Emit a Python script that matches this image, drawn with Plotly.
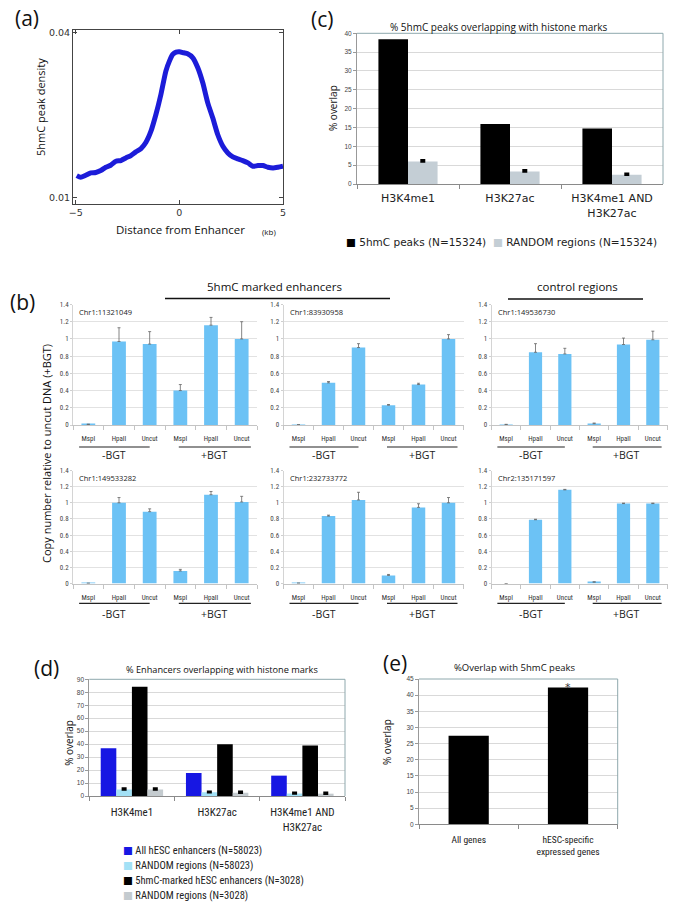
import plotly.graph_objects as go

W, H = 685, 906
def fx(p): return p / W
def fy(p): return 1 - p / H

OPEN = "Open Sans, Noto Sans, sans-serif"
DEJAVU = "DejaVu Sans, Verdana, sans-serif"
NARROW = "Liberation Sans Narrow, Arial Narrow, Roboto Condensed, Roboto, sans-serif"
HELV = "Liberation Sans, Arial, sans-serif"

# ---------------- data ----------------
# (a) 5hmC peak density around enhancers
dist_kb = [-4.95, -4.76, -4.52, -4.27, -4.03, -3.79, -3.55, -3.31, -3.06, -2.82,
           -2.58, -2.34, -2.10, -1.85, -1.61, -1.37, -1.13, -0.89, -0.65, -0.48,
           -0.32, -0.16, 0.0, 0.21, 0.40, 0.65, 0.89, 1.13, 1.37, 1.61,
           1.85, 2.10, 2.34, 2.58, 2.82, 3.06, 3.31, 3.55, 3.79, 4.03,
           4.27, 4.52, 4.76, 5.0]
peak_density = [0.01406, 0.01376, 0.01412, 0.01455, 0.01461, 0.01497, 0.01558, 0.01594, 0.01667, 0.01679,
                0.01727, 0.01770, 0.01836, 0.01897, 0.02012, 0.02212, 0.02515, 0.02879, 0.03303, 0.03485,
                0.03606, 0.03648, 0.03655, 0.03636, 0.03618, 0.03545, 0.03364, 0.03091, 0.02727, 0.02455,
                0.02152, 0.01939, 0.01818, 0.01745, 0.01709, 0.01679, 0.01636, 0.01576, 0.01588, 0.01588,
                0.01558, 0.01545, 0.01558, 0.01576]

# (b) copy number relative to uncut DNA (+BGT)
loci = ["Chr1:11321049", "Chr1:83930958", "Chr1:149536730",
        "Chr1:149533282", "Chr1:232733772", "Chr2:135171597"]
conditions = ["MspI -BGT", "HpaII -BGT", "Uncut -BGT", "MspI +BGT", "HpaII +BGT", "Uncut +BGT"]
enzymes = ["MspI", "HpaII", "Uncut", "MspI", "HpaII", "Uncut"]
treatments = ["-BGT", "+BGT"]
copy_number = [
    [0.006, 0.97, 0.94, 0.40, 1.16, 1.00],
    [0.003, 0.49, 0.90, 0.23, 0.47, 1.00],
    [0.005, 0.845, 0.826, 0.015, 0.935, 0.99],
    [0.003, 1.00, 0.89, 0.155, 1.10, 1.01],
    [0.004, 0.835, 1.035, 0.10, 0.943, 1.00],
    [0.0, 0.79, 1.16, 0.017, 0.99, 0.99],
]
copy_err = [
    [0.004, 0.16, 0.145, 0.07, 0.09, 0.20],
    [0.0, 0.015, 0.045, 0.008, 0.015, 0.05],
    [0.003, 0.10, 0.065, 0.008, 0.075, 0.10],
    [0.0, 0.065, 0.035, 0.02, 0.04, 0.07],
    [0.0, 0.012, 0.095, 0.012, 0.045, 0.065],
    [0.0, 0.006, 0.006, 0.004, 0.006, 0.006],
]

# (c) % 5hmC peaks overlapping with histone marks
marks = ["H3K4me1", "H3K27ac", "H3K4me1 AND<br>H3K27ac"]
peaks_5hmc = [38.4, 15.9, 14.7]
random_c = [6.0, 3.35, 2.45]
random_c_err = [0.3, 0.3, 0.3]
legend_c = ["5hmC peaks (N=15324)", "RANDOM regions (N=15324)"]

# (d) % enhancers overlapping with histone marks
all_enh = [36.8, 17.8, 15.7]
random_all = [5.1, 2.8, 1.9]
random_all_err = [0.6, 0.5, 0.6]
hmc_enh = [84.3, 39.9, 38.9]
random_hmc = [5.1, 2.6, 1.8]
random_hmc_err = [0.6, 0.6, 0.7]
legend_d = ["All hESC enhancers (N=58023)", "RANDOM regions (N=58023)",
            "5hmC-marked hESC enhancers (N=3028)", "RANDOM regions (N=3028)"]

# (e) % overlap with 5hmC peaks
gene_sets = ["All genes", "hESC-specific<br>expressed genes"]
overlap_e = [27.4, 42.4]

C_BLACK = "black"
C_GREY_C = "#c4ced5"
C_BLUE = "#1717e3"
C_CYAN = "#a3e1f6"
C_GREY_D = "#c4cbcf"

fig = go.Figure()

# (a)
fig.add_trace(go.Scatter(x=dist_kb, y=peak_density, mode="lines",
                         line=dict(color="#1c1cd9", width=5, shape="spline", smoothing=0.6),
                         xaxis="x", yaxis="y", showlegend=False))

# (c)
wc = 0.29
fig.add_trace(go.Bar(x=marks, y=peaks_5hmc, name=legend_c[0],
                     marker=dict(color=C_BLACK, line=dict(width=0)), width=wc, offset=-wc,
                     xaxis="x2", yaxis="y2", showlegend=False))
fig.add_trace(go.Bar(x=marks, y=random_c, name=legend_c[1],
                     marker=dict(color=C_GREY_C, line=dict(width=0)), width=wc, offset=0,
                     error_y=dict(type="data", array=random_c_err, arrayminus=[0] * 3, symmetric=False,
                                  color="black", thickness=2.5, width=2.5),
                     xaxis="x2", yaxis="y2", showlegend=False))

# (b)
b_cols = [(73, 257), (283.5, 463.5), (491.5, 667.5)]
b_rows = [(304.5, 425), (470.5, 583.5)]
pos = list(range(len(conditions)))
for i, locus in enumerate(loci):
    n = 3 + i
    fig.add_trace(go.Bar(x=pos, y=copy_number[i], name=locus, width=0.45,
                         marker=dict(color="#6cc2f5", line=dict(width=0)),
                         error_y=dict(type="data", array=copy_err[i], arrayminus=[0] * 6, symmetric=False,
                                      color="#666", thickness=0.8, width=1.5),
                         xaxis=f"x{n}", yaxis=f"y{n}", showlegend=False,
                         customdata=conditions))

# (d)
wd = 0.183
d_series = [
    (all_enh, None, legend_d[0], C_BLUE),
    (random_all, random_all_err, legend_d[1], C_CYAN),
    (hmc_enh, None, legend_d[2], C_BLACK),
    (random_hmc, random_hmc_err, legend_d[3], C_GREY_D),
]
for k, (vals, errs, nm, col) in enumerate(d_series):
    eb = None
    if errs is not None:
        eb = dict(type="data", array=errs, arrayminus=[0] * 3, symmetric=False,
                  color="black", thickness=2.5, width=2.5)
    fig.add_trace(go.Bar(x=marks, y=vals, name=nm, width=wd, offset=-2 * wd + k * wd,
                         marker=dict(color=col, line=dict(width=0)), error_y=eb,
                         xaxis="x9", yaxis="y9", showlegend=False))

# (e)
fig.add_trace(go.Bar(x=gene_sets, y=overlap_e, width=0.405, offset=-0.2025,
                     marker=dict(color="black", line=dict(width=0)),
                     xaxis="x10", yaxis="y10", showlegend=False))

layout = dict(
    width=W, height=H, margin=dict(l=0, r=0, t=0, b=0),
    paper_bgcolor="white", plot_bgcolor="white", template="none",
    barmode="overlay", font=dict(family=OPEN, color="#222"), showlegend=False,
)

layout["xaxis"] = dict(domain=[fx(73), fx(283)], anchor="y", range=[-5.13, 5.0],
                       tickmode="array", tickvals=[-5, 0, 5], ticks="inside", ticklen=4,
                       showline=True, mirror="ticks", linecolor="#444", linewidth=1, tickcolor="#444",
                       showgrid=False, zeroline=False, tickfont=dict(family=DEJAVU, size=9.5, color="#333"))
layout["yaxis"] = dict(domain=[fy(204), fy(30)], anchor="x", range=[0.0089, 0.0405],
                       tickmode="array", tickvals=[0.01, 0.04], ticktext=["0.01", "0.04"],
                       ticks="inside", ticklen=4, showline=True, mirror="ticks", linecolor="#444",
                       linewidth=1, tickcolor="#444", showgrid=False, zeroline=False,
                       tickfont=dict(family=DEJAVU, size=9.5, color="#333"))

def bar_x(domain, anchor, cats, fsize, family):
    return dict(domain=domain, anchor=anchor, type="category", categoryorder="array",
                categoryarray=cats, range=[-0.5, len(cats) - 0.5], tickson="boundaries",
                ticks="outside", ticklen=4, tickcolor="#8a8a8a", showline=True, linecolor="#8a8a8a",
                showgrid=False, zeroline=False, tickfont=dict(family=family, size=fsize, color="#222"))

def bar_y(domain, anchor, rng, dtick):
    return dict(domain=domain, anchor=anchor, range=rng, dtick=dtick, tick0=0,
                ticks="outside", ticklen=3, tickcolor="#999", showline=True, linecolor="#999",
                showgrid=True, gridcolor="#d9d9d9", gridwidth=1, zeroline=False,
                tickfont=dict(family=HELV, size=6.5, color="#444"))

layout["xaxis2"] = bar_x([fx(357), fx(663)], "y2", marks, 11, DEJAVU)
layout["xaxis2"]["ticklabelstandoff"] = 4
layout["yaxis2"] = bar_y([fy(184), fy(33.3)], "x2", [0, 40], 5)

layout["xaxis9"] = bar_x([fx(89.3), fx(345)], "y9", marks, 11, NARROW)
layout["xaxis9"]["ticklabelstandoff"] = 6
layout["yaxis9"] = bar_y([fy(796), fy(679.3)], "x9", [0, 90], 10)

layout["xaxis10"] = bar_x([fx(419), fx(617.7)], "y10", gene_sets, 9.5, NARROW)
layout["xaxis10"]["ticklabelstandoff"] = 6
layout["yaxis10"] = bar_y([fy(824.3), fy(679)], "x10", [0, 45], 5)

for i in range(6):
    n = 3 + i
    r, c = divmod(i, 3)
    top, bot = b_rows[r]
    left, right = b_cols[c]
    layout[f"xaxis{n}"] = dict(domain=[fx(left), fx(right)], anchor=f"y{n}", range=[-0.5, 5.5],
                               tickmode="array", tickvals=pos, ticktext=enzymes, ticks="",
                               showline=True, linecolor="#c4c4c4", showgrid=False, zeroline=False,
                               ticklabelstandoff=7,
                               tickfont=dict(family=NARROW, size=7, color="#333"),
                               minor=dict(tickmode="array", tickvals=[p - 0.5 for p in pos + [6]],
                                          ticks="outside", ticklen=4, tickcolor="#c4c4c4", showgrid=False))
    layout[f"yaxis{n}"] = dict(domain=[fy(bot), fy(top)], anchor=f"x{n}", range=[0, 1.4], dtick=0.2,
                               tick0=0, ticks="outside", ticklen=2, tickcolor="#cfcfcf",
                               showline=True, linecolor="#d4d4d4", showgrid=True, gridcolor="#e2e2e2",
                               zeroline=False, tickfont=dict(family=NARROW, size=7, color="#444"))

shapes = []
annotations = []

def ann(text, x, y, size, family=OPEN, xanchor="center", yanchor="middle", angle=0, xref="paper",
        yref="paper", color="#111", **kw):
    d = dict(text=text, x=x, y=y, xref=xref, yref=yref, showarrow=False, xanchor=xanchor,
             yanchor=yanchor, textangle=angle, font=dict(family=family, size=size, color=color))
    d.update(kw)
    annotations.append(d)

def key(color, label):
    return f'<span style="font-family:DejaVu Sans;color:{color}">\u25A0</span> {label}'

# panel letters
ann("(a)", fx(26.5), fy(17.5), 21)
ann("(c)", fx(322), fy(18.5), 21)
ann("(b)", fx(22.5), fy(302), 21)
ann("(d)", fx(46), fy(668), 21)
ann("(e)", fx(395), fy(663), 21)

# (a)
ann("5hmC peak density", fx(40), fy(107), 11, angle=-90)
ann("Distance from Enhancer", fx(180), fy(230), 11.5)
ann("(kb)", fx(268.5), fy(231), 8)

# (c)
ann("% 5hmC peaks overlapping with histone marks", fx(499), fy(27), 10)
ann("% overlap", fx(333), fy(108), 10, angle=-90)
ann(key(C_BLACK, legend_c[0]) + "  " + key(C_GREY_C, legend_c[1]), fx(344), fy(242), 10.5,
    family=DEJAVU, xanchor="left", color="#222")

# (d)
ann("% Enhancers overlapping with histone marks", fx(222), fy(669.5), 9.2)
ann("% overlap", fx(68.3), fy(742.5), 10, angle=-90)
for k, (lab, col) in enumerate(zip(legend_d, [C_BLUE, C_CYAN, C_BLACK, C_GREY_D])):
    ann(key(col, lab), fx(121), fy(850 + 15 * k), 10.5, family=NARROW, xanchor="left", color="#222")

# (e)
ann("%Overlap with 5hmC peaks", fx(515), fy(667), 9.5)
ann("% overlap", fx(387), fy(742), 10, angle=-90)
ann("*", gene_sets[1], overlap_e[1], 11, family=DEJAVU, xref="x10", yref="y10",
    yanchor="middle", yshift=0, color="#333")

# Excel-style top/right frame
for n in (2, 9, 10):
    shapes.append(dict(type="line", xref=f"x{n} domain", yref=f"y{n} domain", x0=0, x1=1, y0=1, y1=1,
                       line=dict(color="#8ea8ad", width=1)))
    shapes.append(dict(type="line", xref=f"x{n} domain", yref=f"y{n} domain", x0=1, x1=1, y0=0, y1=1,
                       line=dict(color="#8ea8ad", width=1)))

# (b) headers, group lines
ann("5hmC marked enhancers", fx(274), fy(287), 11.5)
shapes.append(dict(type="line", xref="paper", yref="paper", x0=fx(165), x1=fx(390), y0=fy(298.5),
                   y1=fy(298.5), line=dict(color="#111", width=1.5)))
ann("control regions", fx(577), fy(287), 11.5)
shapes.append(dict(type="line", xref="paper", yref="paper", x0=fx(508), x1=fx(643), y0=fy(299),
                   y1=fy(299), line=dict(color="#111", width=1.5)))
ann("Copy number relative to uncut DNA (+BGT)", fx(46.5), fy(453.5), 11, angle=-90)

line_y = [447, 603.3]
text_y = [455.5, 614]
for i, locus in enumerate(loci):
    n = 3 + i
    r, c = divmod(i, 3)
    top, bot = b_rows[r]
    left, right = b_cols[c]
    ann(locus, fx(left + 4), fy(top + 7.5), 7.5, xanchor="left", color="#222")
    for (x0, x1, xt), lab in zip([(-0.3, 2.0, 0.85), (2.95, 5.3, 4.1)], treatments):
        shapes.append(dict(type="line", xref=f"x{n}", yref="paper", x0=x0, x1=x1,
                           y0=fy(line_y[r]), y1=fy(line_y[r]), line=dict(color="#222", width=1.2)))
        ann(lab, xt, fy(text_y[r]), 10.5, xref=f"x{n}", color="#222")

layout["shapes"] = shapes
layout["annotations"] = annotations
fig.update_layout(**layout)

fig.write_html("out.html", config={"displayModeBar": False},
               post_script="document.body.style.margin='0px';document.body.style.padding='0px';")
